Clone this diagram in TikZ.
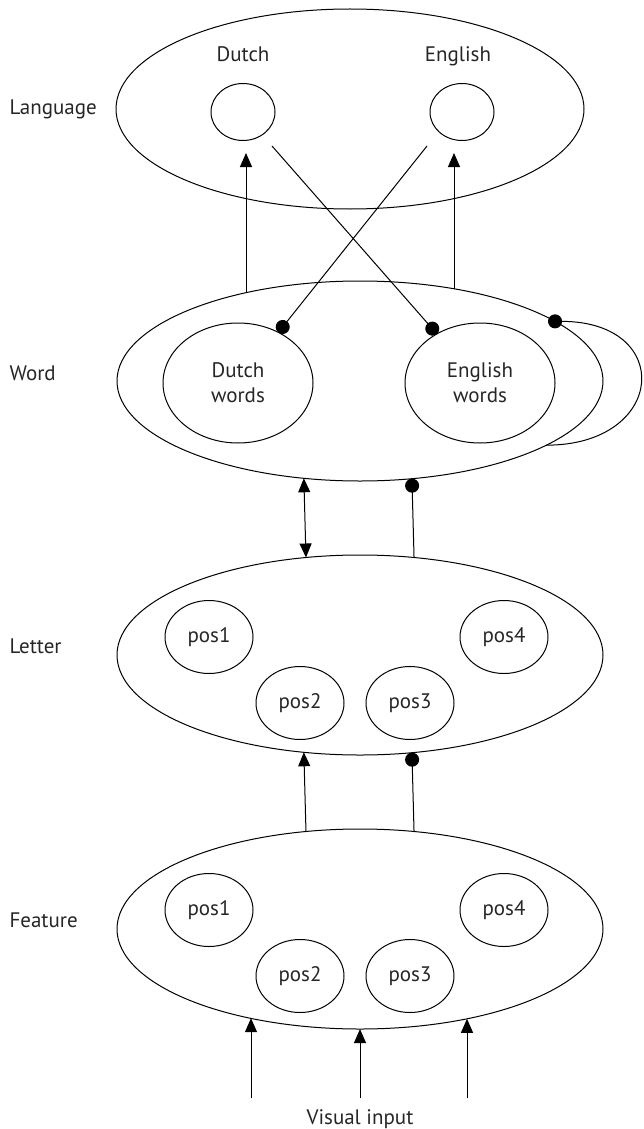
\documentclass[tikz,border=0pt]{standalone}
\usepackage{fontspec}
\setmainfont{PT Sans}
\usetikzlibrary{positioning,shapes.geometric,arrows.meta}

\newcommand{\lblfont}{\fontsize{21}{25}\selectfont}

\tikzset{
  txt/.style={font=\lblfont, text=black!85, inner sep=0pt},
  layer/.style={draw, ellipse, inner sep=0pt, outer sep=0pt,
    minimum width=486pt, minimum height=200pt},
  unit/.style={draw, ellipse, inner sep=0pt, outer sep=0pt,
    minimum width=88pt, minimum height=73pt, font=\lblfont, text=black!85},
  arr/.style={-{Triangle[length=14pt, width=12pt]}},
  biarr/.style={{Triangle[length=14pt, width=12pt]}-{Triangle[length=14pt, width=12pt]}},
  inh/.style={-{Circle[length=14pt]}},
}

\begin{document}
\begin{tikzpicture}[x=1pt, y=1pt, line width=1pt, node distance=74pt]
  \useasboundingbox (0,0) rectangle (643,-1129);

  % Layers
  \node[layer, minimum width=468pt] (lang) at (350,-109) {};
  \node[layer, below=72pt of lang, xshift=10pt] (word) {};
  \node[layer, below=of word] (letter) {};
  \node[layer, below=of letter] (feature) {};

  % Layer names
  \node[txt, anchor=base west] (langlbl) at (9,-114) {Language};
  \node[txt, anchor=base west] (wordlbl) at (9,-380) {Word};
  \node[txt, anchor=base west] (letterlbl) at (9,-653) {Letter};
  \node[txt, anchor=base west] (featurelbl) at (9,-927) {Feature};

  % Language nodes
  \node[unit, minimum width=64pt, minimum height=57pt] (dutch) at ([shift={(-107,-3)}]lang.center) {};
  \node[unit, minimum width=64pt, minimum height=57pt] (english) at ([shift={(112,-3)}]lang.center) {};
  \node[txt, anchor=base] (dutchlbl) at ([yshift=22pt]dutch.north) {Dutch};
  \node[txt, anchor=base] (englishlbl) at ([shift={(-4,22)}]english.north) {English};

  % Word nodes
  \node[unit, minimum width=150pt, minimum height=120pt, align=center] (dwords) at ([shift={(-122,-2)}]word.center) {Dutch\\words};
  \node[unit, minimum width=150pt, minimum height=120pt, align=center] (ewords) at ([shift={(120,-2)}]word.center) {English\\words};

  % Letter nodes
  \node[unit] (lpos1) at ([shift={(-151,18)}]letter.center) {pos1};
  \node[unit] (lpos2) at ([shift={(-60,-48)}]letter.center) {pos2};
  \node[unit] (lpos3) at ([shift={(50,-48)}]letter.center) {pos3};
  \node[unit] (lpos4) at ([shift={(144,18)}]letter.center) {pos4};

  % Feature nodes
  \node[unit] (fpos1) at ([shift={(-151,19)}]feature.center) {pos1};
  \node[unit] (fpos2) at ([shift={(-60,-47)}]feature.center) {pos2};
  \node[unit] (fpos3) at ([shift={(50,-47)}]feature.center) {pos3};
  \node[unit] (fpos4) at ([shift={(144,19)}]feature.center) {pos4};

  % Word -> language
  \coordinate (dtip) at (246,-153);
  \coordinate (etip) at (454,-153);
  \draw[arr] (dtip |- word.142.5) -- (dtip);
  \draw[arr] (etip |- word.44.4) -- (etip);

  % Language -| word (inhibition)
  \coordinate (xa) at (272,-146);
  \coordinate (xb) at (427,-146);
  \draw[inh] (xa) -- (ewords);
  \draw[inh] (xb) -- (dwords);
  \draw[inh, shorten >=-7pt] (word.-19) .. controls +(120,0) and +(120,0) .. (word.17);

  % Word <-> letter
  \draw[biarr] (word.240.5) -- (letter.119.5);
  \draw[inh] (letter.61.5) -- (word.298.5);

  % Feature -> letter
  \draw[arr] (feature.119.5) -- (letter.240.5);
  \draw[inh] (feature.61.5) -- (letter.298.5);

  % Visual input
  \coordinate (vin1) at (251,-1098);
  \coordinate (vin2) at (360,-1098);
  \coordinate (vin3) at (467,-1098);
  \draw[arr] (vin1) -- (vin1 |- feature.219.4);
  \draw[arr] (vin2) -- (feature.south);
  \draw[arr] (vin3) -- (vin3 |- feature.320);
  \node[txt, anchor=base] (vislbl) at ([yshift=-26pt]vin2) {Visual input};

\end{tikzpicture}
\end{document}
